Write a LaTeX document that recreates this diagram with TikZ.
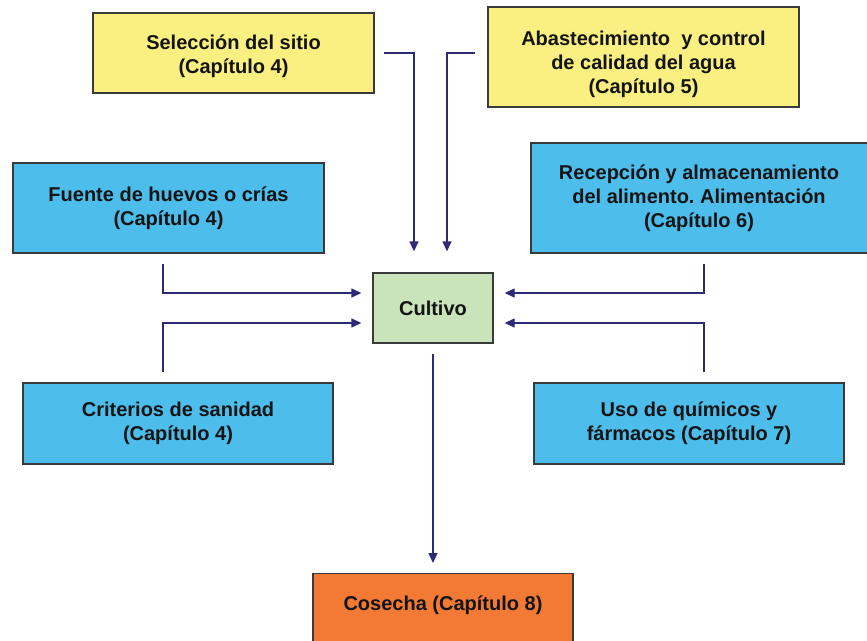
\documentclass[tikz,border=0pt]{standalone}
\usepackage{fontspec}
\setmainfont{Liberation Sans}
\usetikzlibrary{arrows.meta,calc}
\definecolor{boxyellow}{HTML}{F9F081}
\definecolor{boxblue}{HTML}{4DBDEB}
\definecolor{boxgreen}{HTML}{C9E3BB}
\definecolor{boxorange}{HTML}{F27A35}
\definecolor{boxborder}{HTML}{3A3A3A}
\definecolor{arrowcol}{HTML}{2D2A78}
\definecolor{txt}{HTML}{141414}
\frenchspacing
\begin{document}
\begin{tikzpicture}[x=1pt,y=-1pt,
  box/.style={draw=boxborder, line width=1.3pt, inner sep=0pt, align=center,
    text=txt, font=\fontsize{20}{24}\selectfont\bfseries},
  lbl/.style={text=txt, align=center, inner sep=0pt, font=\fontsize{20}{24}\selectfont\bfseries},
  arr/.style={draw=arrowcol, line width=1.3pt, -{Triangle[length=10pt,width=9pt]}}]
\useasboundingbox (0,0) rectangle (867,640);
\clip (0,0) rectangle (867,640);
\fill[white] (0,0) rectangle (867,640);
% boxes
\node[box, fill=boxyellow, minimum width=281pt, minimum height=80pt] (sel) at (233.5,53) {};
\node[lbl] (seltxt) at (233.5,56) {Selección del sitio\\(Capítulo 4)};
\node[box, fill=boxyellow, minimum width=311pt, minimum height=100pt] (abs) at (643.5,57) {};
\node[lbl] (abstxt) at (643.5,64) {Abastecimiento~ y control\\de calidad del agua\\(Capítulo 5)};
\node[box, fill=boxblue, minimum width=311pt, minimum height=90pt] (fue) at (168.5,208)
  {Fuente de huevos o crías\\(Capítulo 4)};
\node[box, fill=boxblue, minimum width=346pt, minimum height=110pt] (rec) at (704,198) {};
\node[lbl] (rectxt) at (699,198)
  {Recepción y almacenamiento\\del alimento. Alimentación\\(Capítulo 6)};
\node[box, fill=boxgreen, minimum width=120pt, minimum height=70pt] (cult) at (433,308)
  {Cultivo};
\node[box, fill=boxblue, minimum width=310pt, minimum height=81pt] (cri) at (178,423.5)
  {Criterios de sanidad\\(Capítulo 4)};
\node[box, fill=boxblue, minimum width=310pt, minimum height=81pt] (uso) at (689,423.5)
  {Uso de químicos y\\fármacos (Capítulo 7)};
\node[box, fill=boxorange, minimum width=260pt, minimum height=90pt, anchor=north] (cos) at (443,573) {};
\node[lbl] (costxt) at (443,605) {Cosecha (Capítulo 8)};
% connectors
\draw[arr] ([xshift=9pt]sel.east) -| ([xshift=-19pt,yshift=21pt]cult.north);
\draw[arr] ([xshift=-12pt,yshift=4pt]abs.west) -| ([xshift=14pt,yshift=21pt]cult.north);
\draw[arr] ([xshift=-5.5pt,yshift=-10pt]fue.south) |- ([xshift=-11pt,yshift=15pt]cult.west);
\draw[arr] ([xshift=-15pt,yshift=10pt]cri.north) |- ([xshift=-11pt,yshift=-15pt]cult.west);
\draw[arr] ([yshift=-10pt]rec.south) |- ([xshift=11pt,yshift=15pt]cult.east);
\draw[arr] ([xshift=15pt,yshift=10pt]uso.north) |- ([xshift=11pt,yshift=-15pt]cult.east);
\coordinate (cstart) at ([yshift=-10pt]cult.south);
\coordinate (costop) at ([yshift=10pt]cos.north);
\draw[arr] (cstart) -- (cstart |- costop);
\end{tikzpicture}
\end{document}
